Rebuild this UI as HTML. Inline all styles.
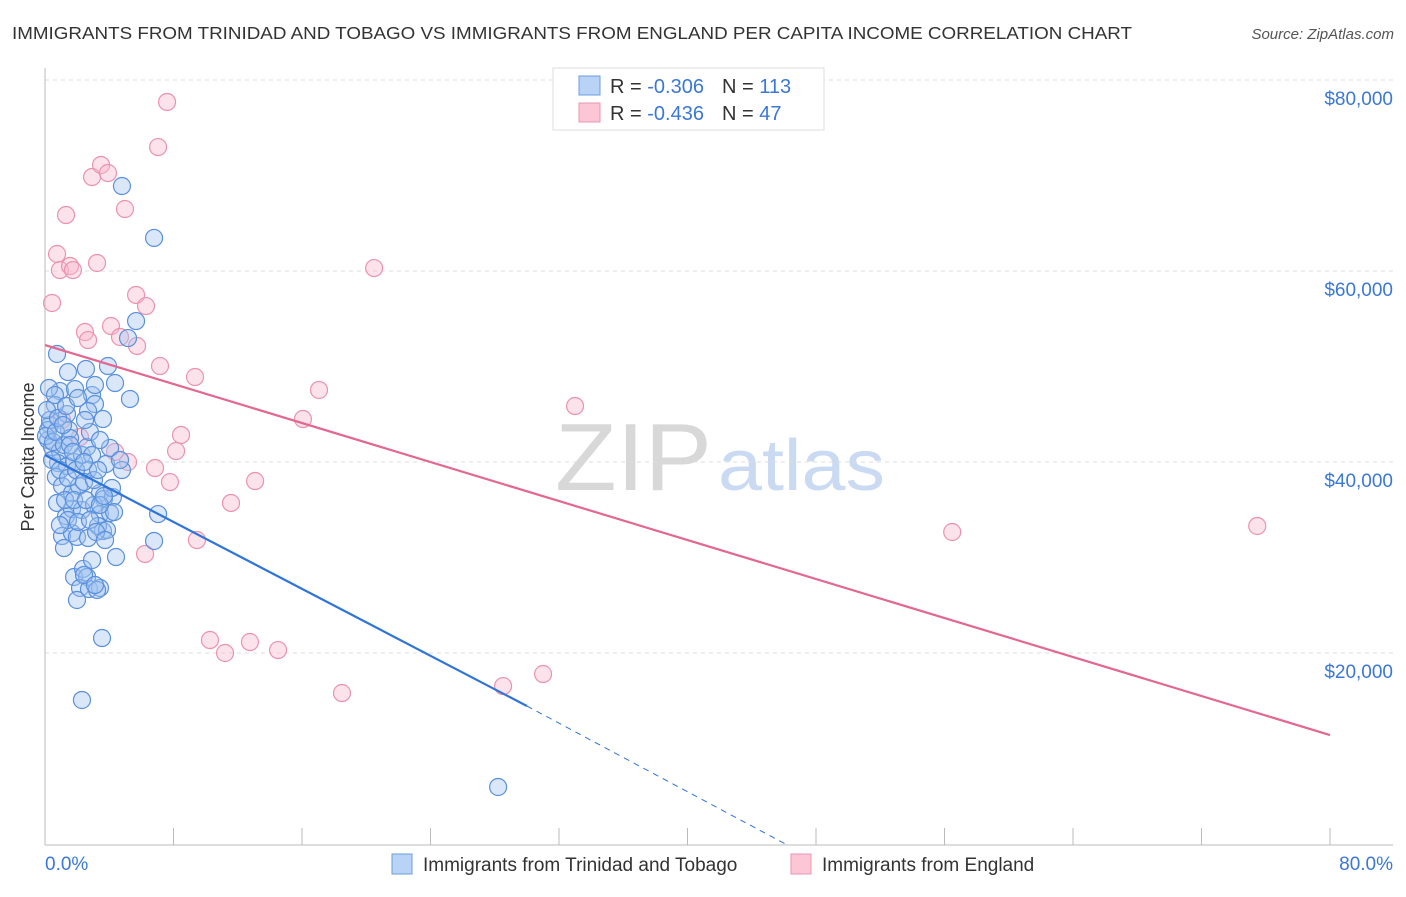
<!DOCTYPE html>
<html><head><meta charset="utf-8"><style>
body{margin:0;background:#fff;font-family:"Liberation Sans",sans-serif}
svg text{font-family:"Liberation Sans",sans-serif}
</style></head><body>
<svg id="chart" width="1406" height="892" xmlns="http://www.w3.org/2000/svg">
<text x="12" y="39" font-size="17.5" fill="#333" textLength="1120" lengthAdjust="spacingAndGlyphs">IMMIGRANTS FROM TRINIDAD AND TOBAGO VS IMMIGRANTS FROM ENGLAND PER CAPITA INCOME CORRELATION CHART</text>
<text x="1394" y="39" font-size="15" fill="#555" font-style="italic" text-anchor="end">Source: ZipAtlas.com</text>
<text transform="translate(34,457) rotate(-90)" font-size="18" fill="#333" text-anchor="middle">Per Capita Income</text>
<g>
<text x="555" y="490" font-size="96" fill="#d8d8d8" font-family="Liberation Serif" textLength="157" lengthAdjust="spacingAndGlyphs">ZIP</text>
<text x="718" y="490" font-size="72" fill="#c9daf2" textLength="167" lengthAdjust="spacingAndGlyphs">atlas</text>
</g>
<g id="grid"></g><g id="axes"></g><g id="marks"></g>
<g>
<rect x="553" y="68" width="271" height="62" fill="#fff" stroke="#ddd"/>
<rect x="579" y="76" width="21" height="19" fill="#b8d3f5" stroke="#6d9ee0"/>
<rect x="579" y="103" width="21" height="19" fill="#fcc6d6" stroke="#e896ad"/>
<text x="610" y="93" font-size="20" fill="#333">R = <tspan fill="#3b78d6">-0.306</tspan><tspan dx="18">N = </tspan><tspan fill="#3b78d6">113</tspan></text>
<text x="610" y="120" font-size="20" fill="#333">R = <tspan fill="#3b78d6">-0.436</tspan><tspan dx="18">N = </tspan><tspan fill="#3b78d6"> 47</tspan></text>
</g>
<g>
<rect x="392" y="854" width="20" height="20" fill="#b8d3f5" stroke="#6d9ee0"/>
<text x="423" y="871" font-size="19" fill="#333">Immigrants from Trinidad and Tobago</text>
<rect x="791" y="854" width="20" height="20" fill="#fcc6d6" stroke="#e896ad"/>
<text x="822" y="871" font-size="19" fill="#333">Immigrants from England</text>
</g>
</svg>
<script>
const yTicks=[20000,40000,60000,80000];
const yTickLabels=["$20,000","$40,000","$60,000","$80,000"];
const xTicks=[0,8,16,24,32,40,48,56,64,72,80];
const blueX=[4.79,6.79,5.67,5.17,3.92,0.75,1.43,2.55,0.93,1.87,2.93,3.11,2.68,3.61,5.29,1.37,0.62,1.49,0.25,0.31,0.19,0.44,0.93,0.81,1.37,1.81,2.30,2.62,2.93,3.80,4.79,0.68,1.06,1.68,2.12,2.68,3.42,3.67,4.23,0.75,1.31,1.68,2.30,3.05,3.42,4.05,4.30,7.04,1.06,1.68,1.99,2.68,3.61,3.30,3.86,1.18,4.42,6.79,1.81,2.37,2.62,2.18,2.74,3.42,3.24,1.99,3.55,2.30,28.21,0.19,0.06,0.31,0.50,0.68,1.18,1.56,0.12,0.44,0.93,1.43,1.93,2.43,3.05,3.30,1.25,1.81,2.55,3.42,4.17,1.43,2.05,2.80,3.18,3.74,0.93,2.93,2.43,3.11,3.67,1.56,0.81,1.12,1.74,2.43,4.05,4.67,2.80,3.42,0.62,1.31,2.05,2.49,3.11,4.36];
const blueY=[68900,63460,54760,52980,50050,51310,49420,49740,47430,47640,47010,46070,45340,44500,46600,45020,45970,43350,47750,43870,42300,41570,41150,39890,39580,40000,40730,41570,40730,39790,39160,38430,37490,36750,37490,39160,36750,36130,36330,35710,34340,35080,34970,35500,34550,34660,34760,34550,32250,32560,32150,32040,32770,33300,32880,30990,30050,31730,27960,28800,27960,26810,26700,26810,26600,25550,21570,15080,5970,43350,42720,44400,42090,43140,41780,42510,45440,40210,39160,38320,39160,37910,38110,39160,36020,36020,36020,35500,37280,33930,33720,33930,32670,31830,33400,29740,28170,27120,36440,41780,44610,43870,41050,40000,41470,40210,43140,42300,47010,45860,46700,44400,48060,48270];
const pinkX=[0.44,0.75,0.93,1.31,1.56,1.74,2.49,2.68,3.24,2.93,3.49,3.92,4.98,5.67,6.29,4.11,4.67,5.73,7.16,9.34,7.60,7.04,8.47,8.16,6.85,7.78,6.23,9.46,11.58,13.08,10.27,11.21,12.76,14.51,18.49,28.52,31.01,16.06,17.06,20.49,33.00,56.48,75.47,4.36,5.17,2.18,1.06];
const pinkY=[56650,61780,60100,65860,60520,60100,53610,52770,60840,69840,71100,70260,66490,57490,56330,54240,53090,52150,50050,48900,77700,72980,42830,41150,39370,37900,30370,31830,35710,38010,21360,20000,21150,20310,15810,16540,17800,44500,47540,60310,45860,32670,33300,41050,40000,42620,44400];
const blueTrend=[[0,40730],[30,14450]];
const blueTrendExt=[[30,14450],[46.1,0]];
const pinkTrend=[[0,52250],[80,11410]];
const NS="http://www.w3.org/2000/svg";
const X=v=>45+v*1285/80, Y=v=>844-v*191/20000;
function mk(p,tag,a){const e=document.createElementNS(NS,tag);for(const k in a)e.setAttribute(k,a[k]);document.getElementById(p).appendChild(e);return e;}
yTicks.forEach((t,i)=>{
 let g=mk('grid','line',{x1:45,x2:1393,y1:Y(t),y2:Y(t),stroke:'#ddd','stroke-dasharray':'4,4'});
 
 
 let l=mk('axes','text',{x:1393,y:Y(t)+25,'font-size':19,fill:'#3b78d6','text-anchor':'end'});
 l.textContent=yTickLabels[i];
 
 
});
let ya=mk('axes','line',{x1:45,x2:45,y1:68,y2:845,stroke:'#bbb'});


let xa=mk('axes','line',{x1:45,x2:1393,y1:845,y2:845,stroke:'#bbb'});


xTicks.forEach(t=>{let e=mk('axes','line',{x1:X(t),x2:X(t),y1:828,y2:845,stroke:'#bbb'});
 
 });
let x0=mk('axes','text',{x:45,y:870,'font-size':19,fill:'#3b78d6'});x0.textContent='0.0%';


let x1=mk('axes','text',{x:1393,y:870,'font-size':19,fill:'#3b78d6','text-anchor':'end'});x1.textContent='80.0%';


pinkX.forEach((v,i)=>{let c=mk('marks','circle',{cx:X(v),cy:Y(pinkY[i]),r:8.5,fill:'rgba(248,182,204,0.4)',stroke:'#eb93ae','stroke-width':1.2});
 
 });
blueX.forEach((v,i)=>{let c=mk('marks','circle',{cx:X(v),cy:Y(blueY[i]),r:8.5,fill:'rgba(160,196,240,0.4)',stroke:'#5a90dc','stroke-width':1.2});
 
 });
let bl=mk('marks','line',{x1:X(blueTrend[0][0]),y1:Y(blueTrend[0][1]),x2:X(blueTrend[1][0]),y2:Y(blueTrend[1][1]),stroke:'#2f74d8','stroke-width':2.2});


let bd=mk('marks','line',{x1:X(blueTrendExt[0][0]),y1:Y(blueTrendExt[0][1]),x2:X(blueTrendExt[1][0]),y2:Y(blueTrendExt[1][1]),stroke:'#2f74d8','stroke-width':1,'stroke-dasharray':'6,5'});


let pl=mk('marks','line',{x1:X(pinkTrend[0][0]),y1:Y(pinkTrend[0][1]),x2:X(pinkTrend[1][0]),y2:Y(pinkTrend[1][1]),stroke:'#e36791','stroke-width':2.2});


</script>
</body></html>
